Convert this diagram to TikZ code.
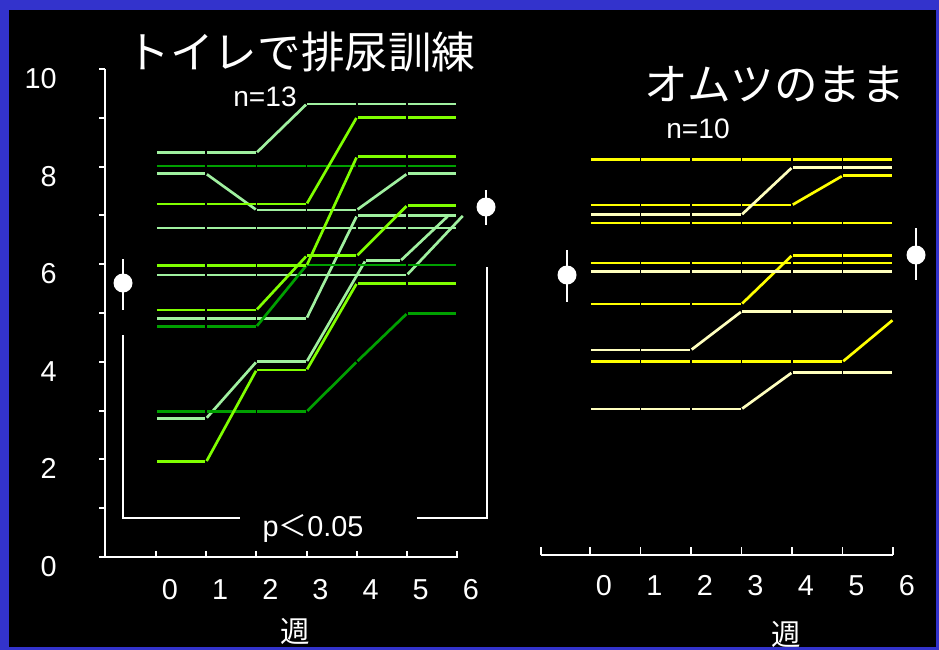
\documentclass[tikz,border=0pt]{standalone}
\usepackage{fontspec}
\setmainfont{Liberation Sans}
\newfontfamily\jpfont{Noto Sans CJK JP}
\definecolor{frameblue}{RGB}{51,51,204}
\definecolor{paleg}{RGB}{160,240,160}
\definecolor{brightg}{RGB}{128,255,0}
\definecolor{darkg}{RGB}{0,160,0}
\definecolor{yel}{RGB}{255,255,0}
\definecolor{paley}{RGB}{255,255,190}
% one child's course: week/value pairs, drawn segment by segment
\newcommand\trend[2]{%
  \foreach \wk/\val [remember=\wk as \lastwk (initially 0),
                     remember=\val as \lastval (initially 0), count=\n] in {#2}{%
    \ifnum\n>1 \draw[seg,#1] (\lastwk,\lastval) -- (\wk,\val);\fi}}
\begin{document}
\begin{tikzpicture}
  [x=0.025cm,y=-0.025cm,
   axis/.style={white,line width=1.4pt},
   seg/.style={line width=1.9pt,shorten <=0.6pt,shorten >=0.6pt},
   lbl/.style={text=white,inner sep=0pt,font=\fontsize{20.5}{24}\selectfont},
   small/.style={text=white,inner sep=0pt,font=\fontsize{20}{24}\selectfont},
   ttl/.style={text=white,inner sep=0pt,font=\jpfont\fontsize{31}{36}\selectfont},
   wk/.style={text=white,inner sep=0pt,font=\jpfont\fontsize{21}{24}\selectfont}]
  \useasboundingbox (0,0) rectangle (939,650);
  \fill[frameblue] (0,0) rectangle (939,650);
  \fill[black] (9,10) rectangle (936,647);

  % left chart: axes
  \draw[axis] (105,69) -- (105,557);
  \foreach \v in {0,...,10}
    \draw[axis] (99,{557-48.8*\v}) -- (105,{557-48.8*\v});
  \foreach \v in {0,2,...,10}
    \node[lbl,anchor=base east] (yl\v) at (57,{576.5-48.8*\v}) {\v};
  \draw[axis] (100,557) -- (458,557);
  \foreach \w in {0,...,6}{
    \draw[axis] ({156+50.2*\w},557) -- ({156+50.2*\w},551);
    \node[lbl,anchor=base] (xl\w) at ({170+50.15*\w},599) {\w};}
  \node[wk] (weekL) at (295,631) {週};
  \node[ttl] (titleL) at (301,52) {トイレで排尿訓練};
  \node[small] (nL) at (265,97) {n=13};

  % left chart: children
  \begin{scope}[shift={(156,557)},x=1.255cm,y=1.22cm]
    \trend{paleg}{0/8.28,1/8.28,2/8.28,3/9.28,4/9.28,5/9.28,6/9.28}
    \trend{paleg}{0/7.85,1/7.85,2/7.11,3/7.11,4/7.11,5/7.85,6/7.85}
    \trend{paleg}{0/6.74,1/6.74,2/6.74,3/6.74,4/6.74,5/6.74,6/6.74}
    \trend{paleg}{0/5.78,1/5.78,2/5.78,3/5.78,4/5.78,5/5.78,6.12/7.0}
    \trend{paleg}{0/4.89,1/4.89,2/4.89,3/4.89,4/6.99,5/6.99,6/6.99}
    \trend{paleg}{0/2.84,1/2.84,2/4.0,3/4.0,4.17/6.07,4.87/6.07,5.82/6.99}
    \trend{darkg}{0/8.01,1/8.01,2/8.01,3/8.01,4/8.01,5/8.01,6/8.01}
    \trend{darkg}{0/4.72,1/4.72,2/4.72,3/5.98,4/5.98,5/5.98,6/5.98}
    \trend{darkg}{0/2.98,1/2.98,2/2.98,3/2.98,4/4.0,5/4.99,6/4.99}
    \trend{brightg}{0/7.23,1/7.23,2/7.23,3/7.23,4/9.01,5/9.01,6/9.01}
    \trend{brightg}{0/5.97,1/5.97,2/5.97,3/5.97,4/8.2,5/8.2,6/8.2}
    \trend{brightg}{0/5.06,1/5.06,2/5.06,3/6.17,4/6.17,5/7.2,6/7.2}
    \trend{brightg}{0/1.95,1/1.95,2/3.83,3/3.83,4/5.61,5/5.61,6/5.61}
  \end{scope}

  % means and the bracket between them
  \draw[axis] (123,259) -- (123,310);
  \fill[white] (123,283) circle (9.5);
  \draw[axis] (486,190) -- (486,225);
  \fill[white] (486,207) circle (9.5);
  \draw[axis] (123,335) -- (123,518) -- (240,518);
  \draw[axis] (417,518) -- (487,518) -- (487,267);
  \node[lbl,anchor=base] (pval) at (313,536) {p{\jpfont ＜}0.05};

  % right chart: axis
  \draw[axis] (541,555) -- (893,555);
  \draw[axis] (541,555) -- (541,547);
  \foreach \w in {0,...,6}{
    \draw[axis] ({590+50.5*\w},555) -- ({590+50.5*\w},547);
    \node[lbl,anchor=base] (xr\w) at ({604+50.5*\w},595) {\w};}
  \node[wk] (weekR) at (786,634) {週};
  \node[ttl] (titleR) at (775,84) {オムツのまま};
  \node[small] (nR) at (698,129) {n=10};

  % right chart: children
  \begin{scope}[shift={(590,557)},x=1.2625cm,y=1.22cm]
    \trend{yel}{0/8.14,1/8.14,2/8.14,3/8.14,4/8.14,5/8.14,6/8.14}
    \trend{yel}{0/7.21,1/7.21,2/7.21,3/7.21,4/7.21,5/7.81,6/7.81}
    \trend{yel}{0/6.84,1/6.84,2/6.84,3/6.84,4/6.84,5/6.84,6/6.84}
    \trend{yel}{0/6.02,1/6.02,2/6.02,3/6.02,4/6.02,5/6.02,6/6.02}
    \trend{yel}{0/5.18,1/5.18,2/5.18,3/5.18,4/6.18,5/6.18,6/6.18}
    \trend{yel}{0/4.0,1/4.0,2/4.0,3/4.0,4/4.0,5/4.0,6/4.86}
    \trend{paley}{0/7.01,1/7.01,2/7.01,3/7.01,4/7.98,5/7.98,6/7.98}
    \trend{paley}{0/5.85,1/5.85,2/5.85,3/5.85,4/5.85,5/5.85,6/5.85}
    \trend{paley}{0/4.24,1/4.24,2/4.24,3/5.03,4/5.03,5/5.03,6/5.03}
    \trend{paley}{0/3.03,1/3.03,2/3.03,3/3.03,4/3.78,5/3.78,6/3.78}
  \end{scope}
  \draw[axis] (567,250) -- (567,302);
  \fill[white] (567,275) circle (9.5);
  \draw[axis] (916,228) -- (916,280);
  \fill[white] (916,255) circle (9.5);
\end{tikzpicture}
\end{document}
